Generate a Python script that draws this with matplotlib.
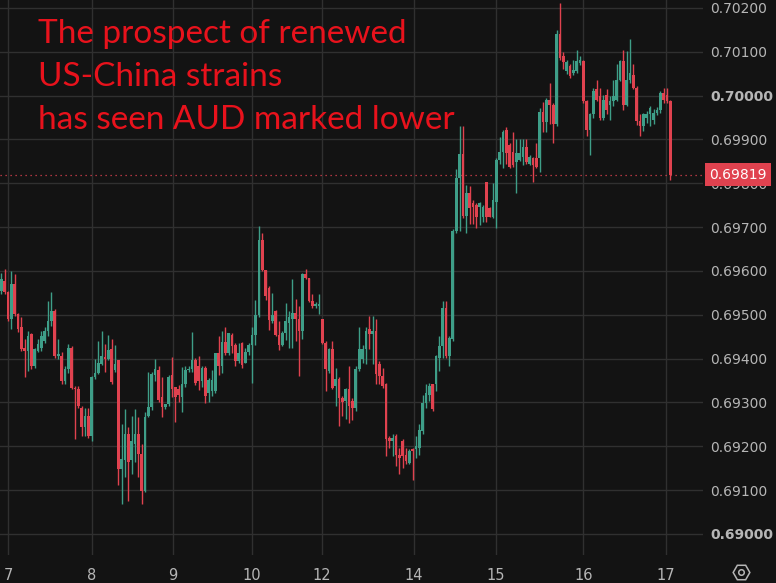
import numpy as np
import matplotlib
matplotlib.use("Agg")
import matplotlib.pyplot as plt
import matplotlib.transforms as mtransforms

# AUD/USD hourly candles, prices in units of 0.00001
opens = [69554, 69577, 69551, 69490, 69570, 69501, 69471, 69425, 69417, 69455,
         69382, 69417, 69425, 69440, 69463, 69486, 69509, 69406, 69406, 69349,
         69376, 69425, 69334, 69330, 69288, 69243, 69269, 69224, 69357, 69368,
         69388, 69403, 69400, 69422, 69373, 69396, 69149, 69168, 69228, 69168,
         69206, 69228, 69183, 69099, 69270, 69289, 69362, 69373, 69312, 69289,
         69297, 69362, 69335, 69331, 69312, 69343, 69373, 69377, 69397, 69382,
         69348, 69378, 69321, 69325, 69325, 69413, 69382, 69439, 69413, 69454,
         69432, 69394, 69435, 69390, 69416, 69432, 69454, 69500, 69671, 69603,
         69561, 69485, 69508, 69454, 69432, 69458, 69482, 69490, 69505, 69490,
         69463, 69592, 69585, 69532, 69520, 69520, 69490, 69436, 69372, 69423,
         69338, 69353, 69311, 69303, 69330, 69303, 69288, 69376, 69398, 69421,
         69467, 69455, 69463, 69387, 69360, 69341, 69219, 69212, 69223, 69181,
         69212, 69181, 69162, 69193, 69193, 69197, 69235, 69299, 69318, 69341,
         69341, 69402, 69428, 69516, 69406, 69444, 69691, 69813, 69866, 69725,
         69778, 69754, 69750, 69746, 69724, 69803, 69743, 69724, 69758, 69853,
         69872, 69921, 69887, 69872, 69849, 69853, 69860, 69883, 69845, 69857,
         69857, 69857, 69963, 69940, 69990, 69978, 69936, 70140, 70090, 70056,
         70067, 70052, 70056, 70075, 70078, 69987, 69922, 69957, 70014, 69998,
         69949, 70002, 69979, 69987, 69991, 70036, 70078, 69979, 70036, 70048,
         70017, 69941, 69930, 69949, 69957, 69945, 69960, 69968, 70006, 70002,
         69987]
highs = [69595, 69605, 69555, 69600, 69592, 69505, 69494, 69444, 69463, 69458,
         69425, 69444, 69463, 69471, 69532, 69553, 69513, 69444, 69414, 69383,
         69433, 69429, 69338, 69338, 69292, 69288, 69288, 69360, 69398, 69440,
         69464, 69434, 69453, 69445, 69430, 69396, 69251, 69286, 69244, 69270,
         69286, 69267, 69206, 69278, 69369, 69369, 69400, 69384, 69358, 69297,
         69362, 69403, 69335, 69340, 69381, 69384, 69384, 69460, 69401, 69405,
         69382, 69382, 69355, 69374, 69413, 69451, 69462, 69473, 69458, 69458,
         69435, 69435, 69439, 69424, 69435, 69473, 69534, 69702, 69686, 69603,
         69565, 69549, 69511, 69485, 69462, 69527, 69509, 69581, 69535, 69520,
         69596, 69604, 69585, 69547, 69528, 69547, 69491, 69440, 69425, 69440,
         69379, 69357, 69315, 69334, 69383, 69310, 69383, 69471, 69430, 69471,
         69497, 69497, 69490, 69394, 69379, 69345, 69223, 69227, 69227, 69197,
         69216, 69197, 69193, 69197, 69223, 69250, 69318, 69341, 69345, 69341,
         69409, 69451, 69531, 69531, 69451, 69695, 69832, 69930, 69930, 69797,
         69794, 69762, 69754, 69758, 69750, 69803, 69746, 69800, 69857, 69906,
         69921, 69929, 69891, 69917, 69902, 69902, 69902, 69902, 69864, 69860,
         69891, 69971, 69986, 69994, 70028, 69982, 70150, 70211, 70100, 70080,
         70071, 70082, 70105, 70090, 70082, 69991, 69960, 70017, 70036, 70017,
         70002, 70014, 69998, 70036, 70071, 70082, 70105, 70101, 70128, 70071,
         70021, 69957, 69960, 69964, 69976, 69970, 69975, 70010, 70017, 70017,
         69991]
lows = [69548, 69548, 69485, 69467, 69498, 69460, 69417, 69357, 69372, 69376,
        69378, 69414, 69417, 69436, 69452, 69475, 69402, 69398, 69341, 69341,
        69368, 69330, 69216, 69288, 69224, 69224, 69220, 69212, 69353, 69364,
        69386, 69369, 69396, 69343, 69369, 69111, 69069, 69130, 69076, 69137,
        69164, 69130, 69069, 69095, 69267, 69282, 69350, 69301, 69267, 69286,
        69293, 69312, 69255, 69300, 69278, 69335, 69369, 69369, 69340, 69329,
        69336, 69298, 69302, 69314, 69321, 69363, 69367, 69409, 69409, 69413,
        69382, 69390, 69378, 69390, 69409, 69344, 69432, 69496, 69599, 69534,
        69466, 69481, 69451, 69420, 69428, 69443, 69425, 69425, 69440, 69360,
        69444, 69581, 69528, 69516, 69516, 69501, 69433, 69326, 69368, 69330,
        69292, 69246, 69270, 69262, 69254, 69260, 69281, 69372, 69390, 69387,
        69421, 69387, 69341, 69341, 69333, 69178, 69197, 69178, 69155, 69136,
        69151, 69159, 69159, 69124, 69174, 69181, 69227, 69288, 69303, 69280,
        69326, 69371, 69402, 69402, 69383, 69440, 69687, 69691, 69721, 69687,
        69706, 69708, 69697, 69705, 69712, 69712, 69722, 69720, 69697, 69845,
        69834, 69845, 69834, 69838, 69777, 69850, 69841, 69845, 69841, 69803,
        69834, 69826, 69917, 69917, 69936, 69891, 69930, 70080, 70060, 70050,
        70040, 70048, 70052, 70070, 69983, 69907, 69865, 69949, 69988, 69945,
        69945, 69957, 69945, 69976, 69987, 70033, 69968, 69976, 70029, 70014,
        69934, 69907, 69919, 69938, 69930, 69935, 69955, 69960, 69983, 69983,
        69808]
closes = [69581, 69551, 69490, 69570, 69501, 69467, 69421, 69417, 69452, 69383,
          69421, 69433, 69452, 69463, 69486, 69509, 69406, 69410, 69349, 69376,
          69425, 69334, 69330, 69292, 69243, 69269, 69224, 69357, 69368, 69391,
          69407, 69399, 69419, 69346, 69388, 69149, 69171, 69228, 69164, 69213,
          69228, 69183, 69099, 69267, 69289, 69365, 69377, 69305, 69289, 69297,
          69358, 69331, 69312, 69316, 69343, 69373, 69377, 69396, 69344, 69348,
          69378, 69314, 69352, 69352, 69413, 69382, 69439, 69413, 69458, 69428,
          69394, 69413, 69386, 69416, 69432, 69454, 69500, 69671, 69603, 69542,
          69489, 69500, 69454, 69432, 69458, 69485, 69494, 69505, 69490, 69463,
          69592, 69585, 69532, 69520, 69524, 69524, 69436, 69376, 69421, 69334,
          69353, 69311, 69300, 69330, 69292, 69288, 69376, 69421, 69421, 69463,
          69455, 69463, 69364, 69360, 69337, 69216, 69212, 69219, 69181, 69174,
          69178, 69166, 69189, 69189, 69200, 69238, 69299, 69322, 69337, 69284,
          69406, 69428, 69516, 69406, 69447, 69691, 69813, 69866, 69725, 69778,
          69744, 69746, 69724, 69754, 69746, 69724, 69724, 69762, 69853, 69872,
          69917, 69868, 69838, 69841, 69868, 69868, 69883, 69849, 69860, 69841,
          69838, 69963, 69940, 69990, 69978, 69936, 70140, 70086, 70076, 70076,
          70044, 70059, 70078, 70082, 69987, 69922, 69957, 70010, 69991, 69949,
          69991, 69968, 69987, 69998, 70036, 70078, 69979, 70036, 70052, 70017,
          69941, 69930, 69957, 69957, 69972, 69960, 69968, 70006, 69991, 69987,
          69819]

day_labels = ["7", "8", "9", "10", "12", "14", "15", "16", "17"]
day_pos = [2, 27, 51.2, 75, 95.9, 123.4, 147.9, 174, 198.7]
last_price = 0.69819
title_lines = ["The prospect of renewed", "US-China strains", "has seen AUD marked lower"]

o = np.array(opens) / 1e5
h = np.array(highs) / 1e5
l = np.array(lows) / 1e5
c = np.array(closes) / 1e5
x = np.arange(len(o))

bg = "#131313"
up = "#3e9e88"
down = "#e0424f"
txt = "#b6b6b6"

W, H = 776, 583
fig = plt.figure(figsize=(W / 100, H / 100), dpi=100, facecolor=bg)
ax = fig.add_axes([0, 1 - 555 / H, 703 / W, 555 / H])
ax.set_facecolor(bg)

cols = np.where(c >= o, up, down)
ax.vlines(x, l, h, colors=cols, lw=1.0, zorder=3)
body = np.maximum(np.abs(c - o), 0.00003)
ax.bar(x, body, bottom=np.minimum(o, c), width=0.8, color=cols, zorder=4)

ax.axhline(last_price, color=down, ls=(0, (1, 3)), lw=0.9, zorder=2)

ax.set_xlim(-0.39, 209.8)
ax.set_ylim(0.68952, 0.70218)

yt = np.round(np.arange(0.690, 0.7021, 0.001), 3)
ax.set_yticks(yt)
ax.set_yticklabels(["%.5f" % v for v in yt])
ax.yaxis.tick_right()
ax.set_xticks(day_pos)
ax.set_xticklabels(day_labels)
ax.tick_params(axis="y", length=0, pad=5, labelsize=10, labelcolor=txt)
ax.tick_params(axis="x", length=0, pad=9, labelsize=10.5, labelcolor=txt)
for lab, v in zip(ax.get_yticklabels(), yt):
    if v in (0.690, 0.700):
        lab.set_fontweight("bold")
ax.grid(True, color="#303030", lw=1.0, zorder=0)
for s in ax.spines.values():
    s.set_visible(False)

# last price tag
trans = mtransforms.blended_transform_factory(ax.transAxes, ax.transData)
ax.text(1.0 + 6 / 703, last_price, "%.5f" % last_price, transform=trans,
        ha="left", va="center", fontsize=10, color="white", zorder=10,
        clip_on=False,
        bbox=dict(boxstyle="square,pad=0.32", fc=down, ec="none"))

# annotation text
for i, line in enumerate(title_lines):
    fig.text(38 / W, 1 - (43 + 43 * i) / H, line, fontsize=24,
             family=["Lato", "DejaVu Sans"], color="#e8121c", va="baseline")

# settings icon
fig.lines.append(plt.Line2D([741 / W], [1 - 572 / H], transform=fig.transFigure,
                            marker="H", ms=12, mfc="none", mec=txt, mew=1.1))
fig.lines.append(plt.Line2D([741 / W], [1 - 572 / H], transform=fig.transFigure,
                            marker="o", ms=4, mfc="none", mec=txt, mew=1.1))

fig.savefig("out.png", dpi=100, facecolor=bg)
